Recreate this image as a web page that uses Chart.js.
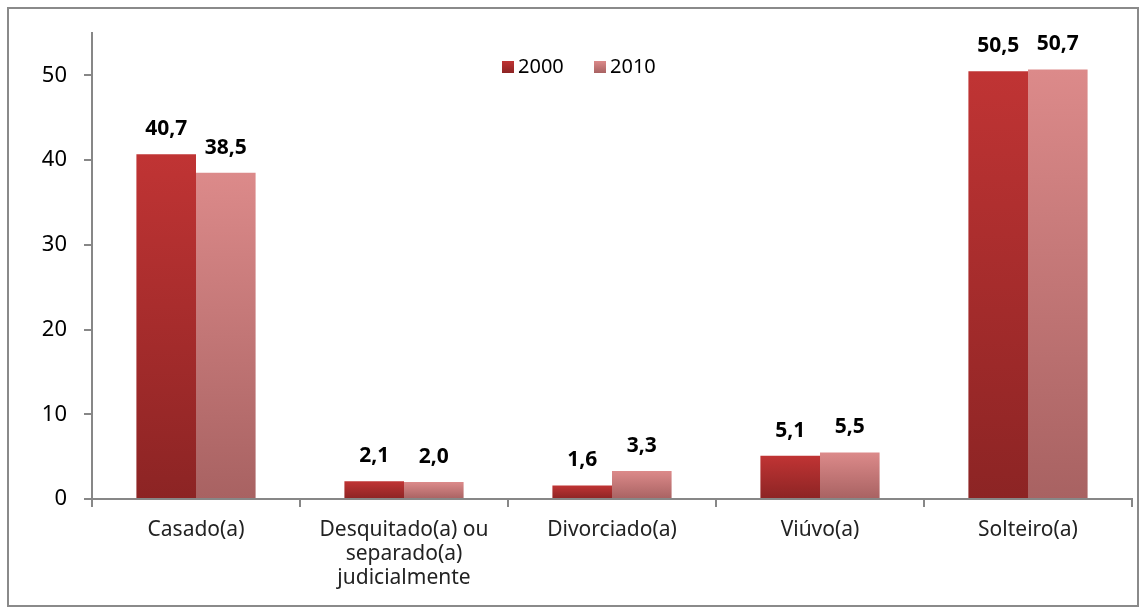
<!DOCTYPE html>
<html>
  <head>
    <script src="https://cdn.jsdelivr.net/npm/chart.js"></script>
    <title>Estado civil</title>
    <style>
      body { margin: 0; background: #ffffff; }
      #grafico { display: block; }
    </style>
  </head>
  <body>
    <canvas id="grafico" width="1139" height="612"></canvas>
    <script>
      // dados
      const categorias = [
        "Casado(a)",
        ["Desquitado(a) ou", "separado(a)", "judicialmente"],
        "Divorciado(a)",
        "Viúvo(a)",
        "Solteiro(a)"
      ];
      const anos = ["2000", "2010"];
      const valores2000 = [40.7, 2.1, 1.6, 5.1, 50.5];
      const valores2010 = [38.5, 2.0, 3.3, 5.5, 50.7];
      const marcasY = [0, 10, 20, 30, 40, 50];

      const FONTE = "'Noto Sans', 'Open Sans', sans-serif";
      const CINZA = "#878787";

      // gradiente por barra: topo claro, base escura
      function gradiente(cores) {
        return function (context) {
          const chart = context.chart;
          if (!chart.chartArea || !chart.scales.y) return cores[0];
          const v = context.raw;
          const topo = chart.scales.y.getPixelForValue(v);
          const base = chart.scales.y.getPixelForValue(0);
          if (!isFinite(topo) || topo === base) return cores[0];
          const g = chart.ctx.createLinearGradient(0, topo, 0, base);
          g.addColorStop(0, cores[0]);
          g.addColorStop(1, cores[1]);
          return g;
        };
      }

      const cores2000 = ["#c03434", "#8c2424"];
      const cores2010 = ["#dc8a8a", "#a86262"];

      // moldura, rotulos e legenda
      const extras = {
        id: "extras",
        afterDraw(chart) {
          const ctx = chart.ctx;
          ctx.save();
          ctx.strokeStyle = "#8a8a8a";
          ctx.lineWidth = 2;
          ctx.strokeRect(8, 8, 1130, 598);

          // rotulos das barras
          ctx.fillStyle = "#000";
          ctx.font = "bold 21px " + FONTE;
          ctx.textAlign = "center";
          ctx.textBaseline = "alphabetic";
          chart.data.datasets.forEach((ds, i) => {
            const meta = chart.getDatasetMeta(i);
            meta.data.forEach((bar, j) => {
              const txt = ds.data[j].toFixed(1).replace(".", ",");
              ctx.fillText(txt, bar.x, bar.y - 19);
            });
          });

          // legenda
          const lx = [502, 594];
          const cores = [cores2000, cores2010];
          ctx.font = "20px " + FONTE;
          ctx.textAlign = "left";
          ctx.textBaseline = "middle";
          anos.forEach((a, i) => {
            const g = ctx.createLinearGradient(0, 61, 0, 73);
            g.addColorStop(0, cores[i][0]);
            g.addColorStop(1, cores[i][1]);
            ctx.fillStyle = g;
            ctx.fillRect(lx[i], 61, 12, 12);
            ctx.fillStyle = "#000";
            ctx.fillText(a, lx[i] + 16, 67);
          });
          ctx.restore();
        }
      };

      const grafico = new Chart(document.getElementById("grafico"), {
        type: "bar",
        data: {
          labels: categorias,
          datasets: [
            {
              label: anos[0],
              data: valores2000,
              backgroundColor: gradiente(cores2000),
              categoryPercentage: 0.573,
              barPercentage: 1.0
            },
            {
              label: anos[1],
              data: valores2010,
              backgroundColor: gradiente(cores2010),
              categoryPercentage: 0.573,
              barPercentage: 1.0
            }
          ]
        },
        options: {
          responsive: false,
          animation: false,
          layout: { padding: { top: 33, right: 7, left: 0, bottom: 0 } },
          plugins: {
            legend: { display: false },
            tooltip: { enabled: false }
          },
          scales: {
            x: {
              grid: {
                display: true,
                offset: true,
                drawOnChartArea: false,
                color: CINZA,
                lineWidth: 2,
                tickLength: 8
              },
              border: { color: CINZA, width: 2 },
              ticks: {
                color: "#222",
                font: { family: FONTE, size: 21, lineHeight: 1.15 },
                padding: 11,
                maxRotation: 0,
                autoSkip: false
              },
              afterFit(scale) { scale.height = 113; }
            },
            y: {
              min: 0,
              max: 55,
              afterBuildTicks(scale) {
                scale.ticks = marcasY.map((v) => ({ value: v }));
              },
              grid: {
                display: true,
                drawOnChartArea: false,
                color: CINZA,
                lineWidth: 2,
                tickLength: 8
              },
              border: { color: CINZA, width: 2 },
              ticks: {
                color: "#000",
                font: { family: FONTE, size: 22 },
                padding: 17
              },
              afterFit(scale) { scale.width = 92; }
            }
          }
        },
        plugins: [extras]
      });
    </script>
  </body>
</html>
